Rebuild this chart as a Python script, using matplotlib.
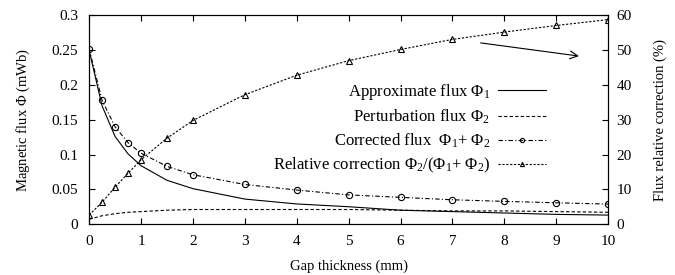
import matplotlib
matplotlib.use("Agg")
import matplotlib.pyplot as plt

# Gap thickness (mm)
gap = [0, 0.25, 0.5, 0.75, 1, 1.5, 2, 3, 4, 5, 6, 7, 8, 9, 10]

# Fluxes (mWb)
flux_approx = [0.250, 0.170, 0.126, 0.101, 0.084, 0.063, 0.051, 0.036,
               0.029, 0.025, 0.020, 0.018, 0.016, 0.014, 0.013]
flux_pert = [0.007, 0.012, 0.015, 0.017, 0.018, 0.020, 0.021, 0.021,
             0.021, 0.021, 0.020, 0.019, 0.019, 0.018, 0.017]
flux_corr = [0.252, 0.178, 0.140, 0.117, 0.102, 0.083, 0.071, 0.057,
             0.049, 0.042, 0.0385, 0.035, 0.0327, 0.0307, 0.0288]

# Relative correction (%)
rel_corr = [2.6, 6.3, 10.6, 14.6, 18.5, 24.7, 29.8, 37.2,
            42.8, 47.0, 50.2, 53.1, 55.2, 57.1, 58.8]

plt.rcParams["font.family"] = ["Liberation Serif", "DejaVu Serif"]
plt.rcParams["mathtext.fontset"] = "custom"
plt.rcParams["mathtext.rm"] = "Liberation Serif"
plt.rcParams["mathtext.it"] = "Liberation Serif:italic"
plt.rcParams["font.size"] = 10.5

fig = plt.figure(figsize=(6.75, 2.75), dpi=100)
ax = fig.add_axes([0.132, 0.185, 0.769, 0.759])
ax2 = ax.twinx()

lw = 0.8
l1, = ax.plot(gap, flux_approx, "-", color="black", lw=lw,
              label=r"Approximate flux $\Phi_1$")
l2, = ax.plot(gap, flux_pert, color="black", lw=lw, linestyle=(0, (3, 2)),
              label=r"Perturbation flux $\Phi_2$")
l3, = ax.plot(gap, flux_corr, color="black", lw=lw, linestyle=(0, (4, 2, 1, 2)),
              marker="o", markersize=4.5, markerfacecolor="none", markeredgewidth=0.8,
              label=r"Corrected flux  $\Phi_1$+ $\Phi_2$")
l4, = ax2.plot(gap, rel_corr, color="black", lw=lw, linestyle=(0, (2, 1.5)),
               marker="^", markersize=4, markerfacecolor="none", markeredgewidth=0.8,
               label=r"Relative correction $\Phi_2$/($\Phi_1$+ $\Phi_2$)")

ax.set_xlim(0, 10)
ax.set_ylim(0, 0.3)
ax2.set_ylim(0, 60)
ax.set_xticks(range(0, 11))
ax.set_yticks([0, 0.05, 0.1, 0.15, 0.2, 0.25, 0.3])
ax.set_yticklabels(["0", "0.05", "0.1", "0.15", "0.2", "0.25", "0.3"])
ax2.set_yticks(range(0, 61, 10))

ax.tick_params(direction="in", length=4, width=0.8, top=True, labelsize=11)
ax.tick_params(axis="x", pad=8)
ax.tick_params(axis="y", pad=8)
ax2.tick_params(direction="in", length=4, width=0.8, pad=6, labelsize=11)
for a in (ax, ax2):
    for s in a.spines.values():
        s.set_linewidth(0.8)

ax.set_xlabel("Gap thickness (mm)", labelpad=8)
ax.set_ylabel(r"Magnetic flux $\Phi$ (mWb)", labelpad=14)
ax2.set_ylabel("Flux relative correction (%)", labelpad=16)

ax2.annotate("", xy=(9.49, 0.241 * 200), xytext=(7.49, 0.261 * 200),
             arrowprops=dict(arrowstyle="->", color="black", lw=0.8,
                             mutation_scale=14))

leg = ax2.legend(handles=[l1, l2, l3, l4], loc="upper right",
                 bbox_to_anchor=(0.894, 0.715), frameon=False, markerfirst=False,
                 handlelength=2.9, handletextpad=0.5, labelspacing=0.35,
                 borderaxespad=0, fontsize=12)
for ln in leg.get_lines():
    ln.set_markersize(3)

fig.savefig("out.png", dpi=100)
